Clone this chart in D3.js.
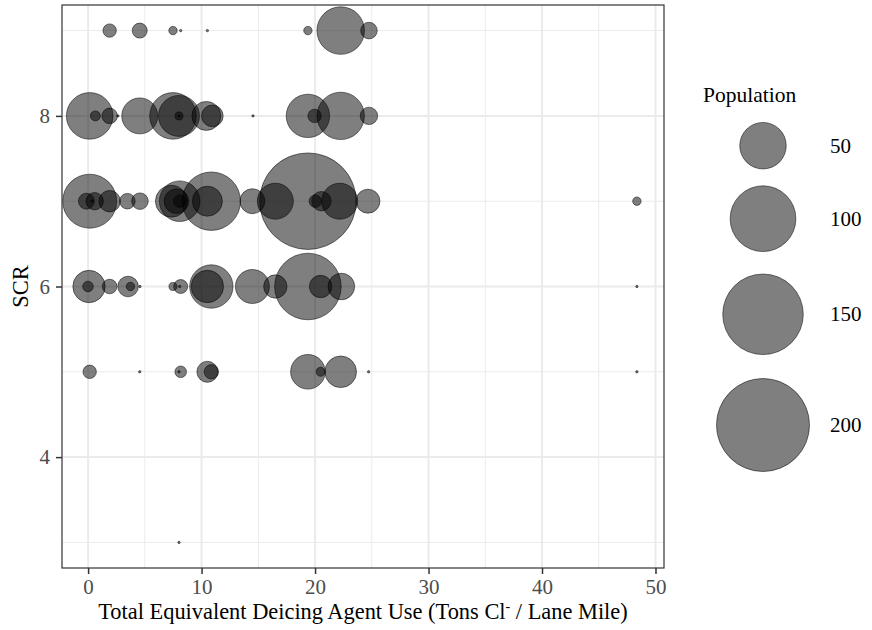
<!DOCTYPE html>
<html>
<head>
<meta charset="utf-8">
<script src="https://cdn.jsdelivr.net/npm/d3@7"></script>
<style>
    body { margin: 0; background: #fff; }
    text { font-family: "Liberation Serif", "Times New Roman", serif; }
</style>
</head>
<body>
<div id="chart"></div>
<script>
// 数据：每一行 SCR 的横坐标和人口
const scr9X = [1.9, 4.55, 7.48, 8.16, 10.51, 19.37, 22.26, 24.75];
const scr9Pop = [4.15, 5.2, 1.63, 0.13, 0.13, 1.63, 52.3, 6.36];

const scr8X = [0.14, 0.64, 1.9, 2.63, 4.55, 7.48, 8.01, 8.01, 8.01, 10.42, 10.95, 14.53, 19.37, 19.96, 22.26, 24.75];
const scr8Pop = [50.2, 2.3, 5.6, 0.13, 29.9, 50.2, 38.8, 1.48, 0.13, 19.4, 10.8, 0.13, 43.5, 4.15, 51.9, 7.0];

const scr7X = [0.14, -0.15, 0.58, 0.34, 1.9, 3.46, 4.57, 7.34, 8.07, 7.78, 8.07, 10.86, 10.51, 14.48, 16.5, 19.37, 20.02, 20.56, 22.17, 24.66, 48.36];
const scr7Pop = [67.3, 5.9, 7.0, 0.13, 10.6, 5.6, 6.36, 23.6, 38.1, 14, 3.55, 78.8, 20.8, 14.4, 29.9, 215.5, 3.55, 8.7, 29.9, 13.3, 1.63];

const scr6X = [0.08, -0.01, 1.9, 3.52, 3.73, 4.57, 7.48, 8.16, 8.07, 10.86, 10.51, 14.48, 16.5, 19.37, 20.49, 22.32, 48.36];
const scr6Pop = [24.2, 2.6, 4.9, 9.8, 1.63, 0.13, 1.48, 4.5, 0.13, 43.5, 24.2, 26.7, 12.6, 102.4, 11.6, 16.3, 0.13];

const scr5X = [0.14, 4.55, 8.16, 8.01, 10.51, 10.86, 19.37, 20.49, 22.26, 24.72, 48.36];
const scr5Pop = [4.15, 0.13, 3.1, 0.13, 10.2, 4.8, 27.7, 1.87, 23.1, 0.13, 0.13];

const scr3X = [8.01];
const scr3Pop = [0.13];

// 刻度和图例
const xTicks = [0, 10, 20, 30, 40, 50];
const xMinor = [5, 15, 25, 35, 45];
const yTicks = [4, 6, 8];
const yMinor = [3, 5, 7, 9];
const legendValues = [50, 100, 150, 200];

// 合并为点列表
const rows = [
    {scr: 9, xs: scr9X, pops: scr9Pop},
    {scr: 8, xs: scr8X, pops: scr8Pop},
    {scr: 7, xs: scr7X, pops: scr7Pop},
    {scr: 6, xs: scr6X, pops: scr6Pop},
    {scr: 5, xs: scr5X, pops: scr5Pop},
    {scr: 3, xs: scr3X, pops: scr3Pop}
];
const points = [];
rows.forEach(r => r.xs.forEach((x, i) => points.push({x: x, y: r.scr, pop: r.pops[i]})));

const width = 872, height = 630;
const panel = {left: 62, right: 664, top: 5, bottom: 568};
const serif = "'Liberation Serif', 'Times New Roman', serif";

const svg = d3.select("#chart").append("svg")
    .attr("width", width)
    .attr("height", height);

const x = d3.scaleLinear().domain([-2.3, 50.75]).range([panel.left, panel.right]);
const y = d3.scaleLinear().domain([2.7, 9.3]).range([panel.bottom, panel.top]);
const r = d3.scaleSqrt().domain([0, 200]).range([0, 46.5]);

// 网格线（次要）
const grid = svg.append("g");
xMinor.forEach(v => {
    grid.append("line")
        .attr("x1", x(v)).attr("x2", x(v))
        .attr("y1", panel.top).attr("y2", panel.bottom)
        .attr("stroke", "#ebebeb").attr("stroke-width", 1);
});
yMinor.forEach(v => {
    grid.append("line")
        .attr("x1", panel.left).attr("x2", panel.right)
        .attr("y1", y(v)).attr("y2", y(v))
        .attr("stroke", "#ebebeb").attr("stroke-width", 1);
});
// 网格线（主要）
xTicks.forEach(v => {
    grid.append("line")
        .attr("x1", x(v)).attr("x2", x(v))
        .attr("y1", panel.top).attr("y2", panel.bottom)
        .attr("stroke", "#ebebeb").attr("stroke-width", 2);
});
yTicks.forEach(v => {
    grid.append("line")
        .attr("x1", panel.left).attr("x2", panel.right)
        .attr("y1", y(v)).attr("y2", y(v))
        .attr("stroke", "#ebebeb").attr("stroke-width", 2);
});

// 气泡
svg.append("g")
    .selectAll("circle")
    .data(points)
    .join("circle")
    .attr("cx", d => x(d.x))
    .attr("cy", d => y(d.y))
    .attr("r", d => r(d.pop))
    .attr("fill", "#000")
    .attr("fill-opacity", 0.5)
    .attr("stroke", "#000")
    .attr("stroke-opacity", 0.5)
    .attr("stroke-width", 1);

// 面板边框
svg.append("rect")
    .attr("x", panel.left).attr("y", panel.top)
    .attr("width", panel.right - panel.left)
    .attr("height", panel.bottom - panel.top)
    .attr("fill", "none")
    .attr("stroke", "#333")
    .attr("stroke-width", 1.2);

// X轴
const xAxis = svg.append("g")
    .attr("transform", `translate(0,${panel.bottom})`)
    .call(d3.axisBottom(x).tickValues(xTicks).tickFormat(d3.format("d")).tickSize(6).tickPadding(5));
xAxis.select(".domain").remove();
xAxis.selectAll(".tick line").attr("stroke", "#333").attr("stroke-width", 1.5);
xAxis.selectAll(".tick text")
    .attr("fill", "#4d4d4d")
    .style("font-size", "21px")
    .style("font-family", serif);

// Y轴
const yAxis = svg.append("g")
    .attr("transform", `translate(${panel.left},0)`)
    .call(d3.axisLeft(y).tickValues(yTicks).tickFormat(d3.format("d")).tickSize(6).tickPadding(6));
yAxis.select(".domain").remove();
yAxis.selectAll(".tick line").attr("stroke", "#333").attr("stroke-width", 1.5);
yAxis.selectAll(".tick text")
    .attr("fill", "#4d4d4d")
    .style("font-size", "21px")
    .style("font-family", serif);

// 轴标题
const xTitle = svg.append("text")
    .attr("x", (panel.left + panel.right) / 2)
    .attr("y", 619)
    .attr("text-anchor", "middle")
    .attr("fill", "#000")
    .style("font-size", "22.4px");
xTitle.append("tspan").text("Total Equivalent Deicing Agent Use (Tons Cl");
xTitle.append("tspan").attr("dy", -8).style("font-size", "14px").text("-");
xTitle.append("tspan").attr("dy", 8).text(" / Lane Mile)");

svg.append("text")
    .attr("transform", `translate(28,${(panel.top + panel.bottom) / 2}) rotate(-90)`)
    .attr("text-anchor", "middle")
    .attr("fill", "#000")
    .style("font-size", "22.4px")
    .text("SCR");

// 图例
const legend = svg.append("g");
legend.append("text")
    .attr("x", 703)
    .attr("y", 102)
    .attr("fill", "#000")
    .style("font-size", "21.5px")
    .text("Population");

const legendY = [145.7, 218.7, 314.3, 425];
legendValues.forEach((v, i) => {
    legend.append("circle")
        .attr("cx", 763)
        .attr("cy", legendY[i])
        .attr("r", r(v))
        .attr("fill", "#000")
        .attr("fill-opacity", 0.5)
        .attr("stroke", "#000")
        .attr("stroke-opacity", 0.5)
        .attr("stroke-width", 1);
    legend.append("text")
        .attr("x", 830)
        .attr("y", legendY[i] + 7)
        .attr("fill", "#000")
        .style("font-size", "21px")
        .text(v);
});
</script>
</body>
</html>
